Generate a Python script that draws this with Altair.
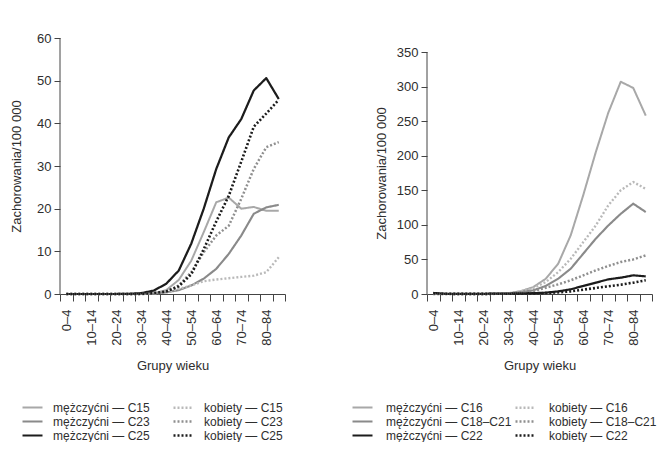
import json
import altair as alt
import pandas as pd

FONT = "Liberation Sans, Arial, sans-serif"
AXIS = "#444444"
TEXT = "#2e2e2e"

ages = ['0–4', '5–9', '10–14', '15–19', '20–24', '25–29', '30–34', '35–39', '40–44',
        '45–49', '50–54', '55–59', '60–64', '65–69', '70–74', '75–79', '80–84', '85+']
shown_ages = ages[0:17:2]

# ---- left panel ----  (legend fills column by column)
left_names = ['mężczyćni — C15', 'mężczyćni — C23', 'mężczyćni — C25',
              'kobiety — C15', 'kobiety — C23', 'kobiety — C25']
m_C15 = [0, 0, 0, 0, 0, 0, 0.05, 0.2, 0.9, 3.3, 7.8, 14.5, 21.5, 22.6, 20.0, 20.4, 19.5, 19.5]
m_C23 = [0, 0, 0, 0, 0, 0, 0, 0.1, 0.4, 0.9, 2.0, 3.6, 5.9, 9.4, 13.7, 18.8, 20.3, 20.9]
m_C25 = [0, 0, 0, 0, 0, 0.05, 0.2, 0.8, 2.4, 5.5, 11.8, 20.0, 29.3, 36.7, 41.0, 47.7, 50.6, 45.7]
k_C15 = [0, 0, 0, 0, 0, 0, 0, 0.1, 0.4, 1.2, 2.0, 3.0, 3.4, 3.7, 4.0, 4.3, 5.1, 8.6]
k_C23 = [0, 0, 0, 0, 0, 0, 0, 0.1, 0.5, 2.0, 5.1, 9.8, 13.7, 16.0, 22.3, 29.3, 34.4, 35.6]
k_C25 = [0, 0, 0, 0, 0, 0, 0.05, 0.2, 0.6, 1.8, 4.6, 10.5, 17.0, 23.0, 31.0, 39.2, 42.3, 45.5]
left_values = [m_C15, m_C23, m_C25, k_C15, k_C23, k_C25]
left_ticks = [0, 10, 20, 30, 40, 50, 60]

# ---- right panel ----
right_names = ['mężczyćni — C16', 'mężczyćni — C18–C21', 'mężczyćni — C22',
               'kobiety — C16', 'kobiety — C18–C21', 'kobiety — C22']
m_C16 = [0, 0, 0, 0, 0, 0.3, 1, 4, 10, 22, 44, 85, 143, 205, 262, 307, 298, 258]
m_C1821 = [0, 0, 0, 0, 0, 0.2, 0.8, 2.9, 5.3, 11.6, 22.2, 36.6, 58.3, 80, 99, 116, 130.6, 118.6]
m_C22 = [1.5, 0.3, 0.2, 0.2, 0.3, 0.5, 0.7, 1, 1.2, 1.9, 3.8, 6.8, 11.6, 16.4, 21.2, 23.6, 27, 25.5]
k_C16 = [0, 0, 0, 0, 0, 0.3, 1, 3.8, 8.7, 17.3, 31.8, 51, 75, 99, 128, 150, 162, 152]
k_C1821 = [0, 0, 0, 0, 0, 0.2, 0.7, 2.2, 4.2, 9.1, 14, 19.8, 27, 34.2, 40.5, 46.3, 50, 55.9]
k_C22 = [1, 0.3, 0.2, 0.2, 0.2, 0.3, 0.4, 0.6, 0.8, 1.4, 2.4, 3.8, 6.3, 8.7, 11.1, 13.5, 16.4, 19.8]
right_values = [m_C16, m_C1821, m_C22, k_C16, k_C1821, k_C22]
right_ticks = [0, 50, 100, 150, 200, 250, 300, 350]

colors = ['#a8a8a8', '#8a8a8a', '#1c1c1c', '#b9b9b9', '#8f8f8f', '#1c1c1c']
dashes = [[1, 0], [1, 0], [1, 0], [2, 2], [2, 2], [2, 2]]
widths = [2.0, 2.6, 2.2, 1.6, 2.2, 2.6]

W = 225
H = 256

label_expr = "indexof(" + json.dumps(shown_ages) + ", datum.value) >= 0 ? datum.label : ''"


def panel(names, values, yticks, ytop, legend_x, col_pad, label_off, title_pad, title_y=None):
    rows = []
    for n, vals in zip(names, values):
        for i, (a, v) in enumerate(zip(ages, vals)):
            rows.append({'age': a, 'idx': i, 'series': n, 'value': v})
    df = pd.DataFrame(rows)

    leg = alt.Legend(title=None, orient='none', legendX=legend_x, legendY=363,
                     columns=2, symbolType='M-2,0H2', symbolSize=100,
                     rowPadding=1, columnPadding=col_pad, labelOffset=label_off,
                     labelFont=FONT, labelFontSize=12, labelColor=TEXT)

    xaxis = alt.Axis(title='Grupy wieku', labelAngle=270, tickBand='extent',
                     labelExpr=label_expr, tickSize=7, labelPadding=8,
                     titlePadding=14, labelBaseline='middle')
    yargs = dict(title='Zachorowania/100 000', values=yticks, domain=False,
                 tickSize=6, labelPadding=3, titlePadding=title_pad)
    if title_y is not None:
        yargs['titleY'] = title_y
    yaxis = alt.Axis(**yargs)
    yscale = alt.Scale(domain=[0, ytop], nice=False, zero=True)

    lines = alt.Chart(df).mark_line(strokeJoin='round').encode(
        x=alt.X('age:N', sort=ages, bandPosition=0.5,
                scale=alt.Scale(type='band', paddingInner=0, paddingOuter=0),
                axis=xaxis),
        y=alt.Y('value:Q', scale=yscale, axis=yaxis),
        color=alt.Color('series:N', sort=names,
                        scale=alt.Scale(domain=names, range=colors), legend=leg),
        strokeDash=alt.StrokeDash('series:N', sort=names,
                                  scale=alt.Scale(domain=names, range=dashes), legend=leg),
        strokeWidth=alt.StrokeWidth('series:N', sort=names,
                                    scale=alt.Scale(domain=names, range=widths), legend=leg),
        order=alt.Order('idx:Q'),
    )
    axis_line = alt.Chart(pd.DataFrame({'a': [0]})).mark_rule(
        color=AXIS, strokeWidth=1).encode(
        x=alt.value(0),
        y=alt.YDatum(0, scale=yscale, axis=yaxis),
        y2=alt.Y2Datum(yticks[-1]))
    return alt.layer(axis_line, lines).properties(width=W, height=H)


left = panel(left_names, left_values, left_ticks, 60, -34, 18, 14, 13)
# right panel: 350 sits 14px below the top of the shared 256px plot height
right = panel(right_names, right_values, right_ticks, 350 * H / 242, -71, -2, 17, 8,
              title_y=(H - 242) + 242 / 2)

chart = alt.hconcat(left, right, spacing=142, bounds='flush').resolve_scale(
    color='independent', strokeDash='independent', strokeWidth='independent',
    x='independent', y='independent'
).resolve_legend(
    color='independent', strokeDash='independent', strokeWidth='independent'
).properties(
    padding={'left': 2, 'top': 24, 'right': 0, 'bottom': 0},
    background='white'
).configure_view(stroke=None).configure_axis(
    grid=False, labelFont=FONT, titleFont=FONT, labelFontSize=13, titleFontSize=13,
    labelColor=TEXT, titleColor=TEXT, domainColor=AXIS, tickColor=AXIS,
    titleFontWeight='normal', domainWidth=1, tickWidth=1
)

chart.save("out.html", embed_options={"renderer": "svg", "actions": False})
